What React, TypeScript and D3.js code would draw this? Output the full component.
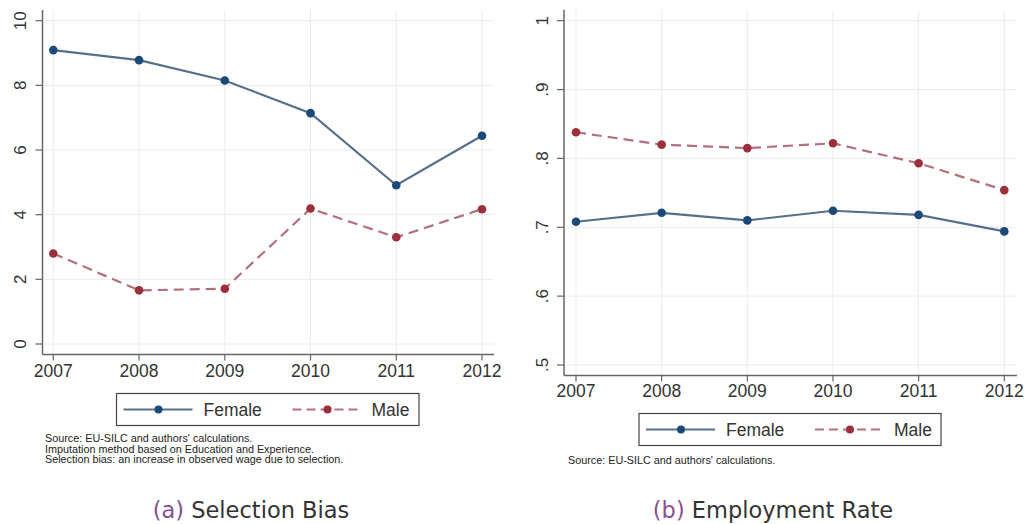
import React from "react";
import * as d3 from "d3";

// Years on the x axis
const years = [2007, 2008, 2009, 2010, 2011, 2012];

// Panel (a): selection bias
const biasFemale = [9.09, 8.78, 8.15, 7.14, 4.91, 6.44];
const biasMale = [2.8, 1.66, 1.71, 4.19, 3.3, 4.17];
const biasTicks = [0, 2, 4, 6, 8, 10];
const biasTickLabels = ["0", "2", "4", "6", "8", "10"];

// Panel (b): employment rate
const empFemale = [0.708, 0.721, 0.71, 0.724, 0.718, 0.694];
const empMale = [0.838, 0.82, 0.815, 0.822, 0.793, 0.754];
const empTicks = [0.5, 0.6, 0.7, 0.8, 0.9, 1];
const empTickLabels = [".5", ".6", ".7", ".8", ".9", "1"];

const seriesNames = ["Female", "Male"];
const notesA = [
  "Source: EU-SILC and authors' calculations.",
  "Imputation method based on Education and Experience.",
  "Selection bias: an increase in observed wage due to selection.",
];
const notesB = ["Source: EU-SILC and authors' calculations."];

const FONT = "'Liberation Sans', Arial, sans-serif";
const FEMALE_LINE = "#56708a";
const FEMALE_DOT = "#1c4a78";
const MALE_LINE = "#b3717a";
const MALE_DOT = "#9c2f3b";
const GRID = "#ececec";
const AXIS = "#666";
const TEXT = "#333";

type PanelProps = {
  axisX: number; // x of the y axis line
  xRange: [number, number];
  axisY: number; // y of the x axis line
  plotTop: number;
  plotRight: number;
  yDomain: [number, number];
  yRange: [number, number];
  ticks: number[];
  tickLabels: string[];
  female: number[];
  male: number[];
  yearLabelY: number;
  yLabelX: number;
};

function Panel(p: PanelProps) {
  const x = d3.scaleLinear().domain([years[0], years[years.length - 1]]).range(p.xRange);
  const y = d3.scaleLinear().domain(p.yDomain).range(p.yRange);
  const line = d3
    .line<number>()
    .x((_, i) => x(years[i]))
    .y((v) => y(v));
  return (
    <g>
      {/* grid */}
      {years.map((yr) => (
        <line key={"vg" + yr} x1={x(yr)} x2={x(yr)} y1={p.plotTop} y2={p.axisY} stroke={GRID} strokeWidth={1} />
      ))}
      {p.ticks.map((t) => (
        <line key={"hg" + t} x1={p.axisX} x2={p.plotRight} y1={y(t)} y2={y(t)} stroke={GRID} strokeWidth={1} />
      ))}
      {/* axes */}
      <line x1={p.axisX} x2={p.axisX} y1={p.plotTop} y2={p.axisY} stroke={AXIS} strokeWidth={1.5} />
      <line x1={p.axisX} x2={p.plotRight} y1={p.axisY} y2={p.axisY} stroke={AXIS} strokeWidth={1.5} />
      {p.ticks.map((t, i) => (
        <g key={"yt" + t}>
          <line x1={p.axisX - 7} x2={p.axisX} y1={y(t)} y2={y(t)} stroke={AXIS} strokeWidth={1.2} />
          <text
            transform={`translate(${p.yLabelX},${y(t)}) rotate(-90)`}
            textAnchor="middle"
            dy="0.35em"
            fontSize={17}
            fill={TEXT}
            fontFamily={FONT}
          >
            {p.tickLabels[i]}
          </text>
        </g>
      ))}
      {years.map((yr) => (
        <g key={"xt" + yr}>
          <line x1={x(yr)} x2={x(yr)} y1={p.axisY} y2={p.axisY + 6} stroke={AXIS} strokeWidth={1.2} />
          <text x={x(yr)} y={p.yearLabelY} textAnchor="middle" dy="0.35em" fontSize={17.5} fill={TEXT} fontFamily={FONT}>
            {yr}
          </text>
        </g>
      ))}
      {/* series */}
      <path d={line(p.female) ?? ""} fill="none" stroke={FEMALE_LINE} strokeWidth={2.2} />
      <path d={line(p.male) ?? ""} fill="none" stroke={MALE_LINE} strokeWidth={2.2} strokeDasharray="10,6" />
      {p.female.map((v, i) => (
        <circle key={"f" + i} cx={x(years[i])} cy={y(v)} r={4.3} fill={FEMALE_DOT} />
      ))}
      {p.male.map((v, i) => (
        <circle key={"m" + i} cx={x(years[i])} cy={y(v)} r={4.3} fill={MALE_DOT} />
      ))}
    </g>
  );
}

function Legend({ x0, y0, w, h }: { x0: number; y0: number; w: number; h: number }) {
  const ty = y0 + h / 2;
  return (
    <g>
      <rect x={x0} y={y0} width={w} height={h} fill="white" stroke="#444" strokeWidth={1.2} />
      <line x1={x0 + 7} x2={x0 + 76} y1={ty} y2={ty} stroke={FEMALE_LINE} strokeWidth={1.8} />
      <circle cx={x0 + 42} cy={ty} r={4} fill={FEMALE_DOT} />
      <text x={x0 + 87} y={ty} dy="0.36em" fontSize={17.5} fill={TEXT} fontFamily={FONT}>
        {seriesNames[0]}
      </text>
      <line x1={x0 + 176} x2={x0 + 245} y1={ty} y2={ty} stroke={MALE_LINE} strokeWidth={1.8} strokeDasharray="9,5" />
      <circle cx={x0 + 211} cy={ty} r={4} fill={MALE_DOT} />
      <text x={x0 + 255} y={ty} dy="0.36em" fontSize={17.5} fill={TEXT} fontFamily={FONT}>
        {seriesNames[1]}
      </text>
    </g>
  );
}

function Caption({ cx, cy, tag, title }: { cx: number; cy: number; tag: string; title: string }) {
  return (
    <text x={cx} y={cy} dy="0.35em" textAnchor="middle" fontSize={22.5} fontFamily="'DejaVu Sans', sans-serif" fill="#333">
      <tspan fill="#8a4f92">({tag})</tspan>
      <tspan> {title}</tspan>
    </text>
  );
}

export default function App() {
  return (
    <svg
      width={1027}
      height={524}
      style={{ position: "absolute", left: 0, top: 0, background: "white" }}
    >
      <rect width={1027} height={524} fill="white" />
      <Panel
        axisX={42.5}
        xRange={[53.3, 482]}
        axisY={354.5}
        plotTop={10}
        plotRight={494}
        yDomain={[0, 10]}
        yRange={[344, 20.7]}
        ticks={biasTicks}
        tickLabels={biasTickLabels}
        female={biasFemale}
        male={biasMale}
        yearLabelY={371}
        yLabelX={20}
      />
      <Panel
        axisX={564}
        xRange={[576, 1004.3]}
        axisY={375.5}
        plotTop={10}
        plotRight={1017}
        yDomain={[0.5, 1]}
        yRange={[365, 20.7]}
        ticks={empTicks}
        tickLabels={empTickLabels}
        female={empFemale}
        male={empMale}
        yearLabelY={391}
        yLabelX={542}
      />
      <Legend x0={116.5} y0={393.5} w={302.5} h={32} />
      <Legend x0={639} y0={413.5} w={302} h={32} />
      {notesA.map((t, i) => (
        <text key={i} x={45} y={442 + i * 10.5} fontSize={10.8} fill="#222" fontFamily={FONT}>
          {t}
        </text>
      ))}
      {notesB.map((t, i) => (
        <text key={i} x={568} y={464 + i * 10.5} fontSize={10.8} fill="#222" fontFamily={FONT}>
          {t}
        </text>
      ))}
      <Caption cx={251} cy={510.5} tag="a" title="Selection Bias" />
      <Caption cx={773} cy={510.5} tag="b" title="Employment Rate" />
    </svg>
  );
}
